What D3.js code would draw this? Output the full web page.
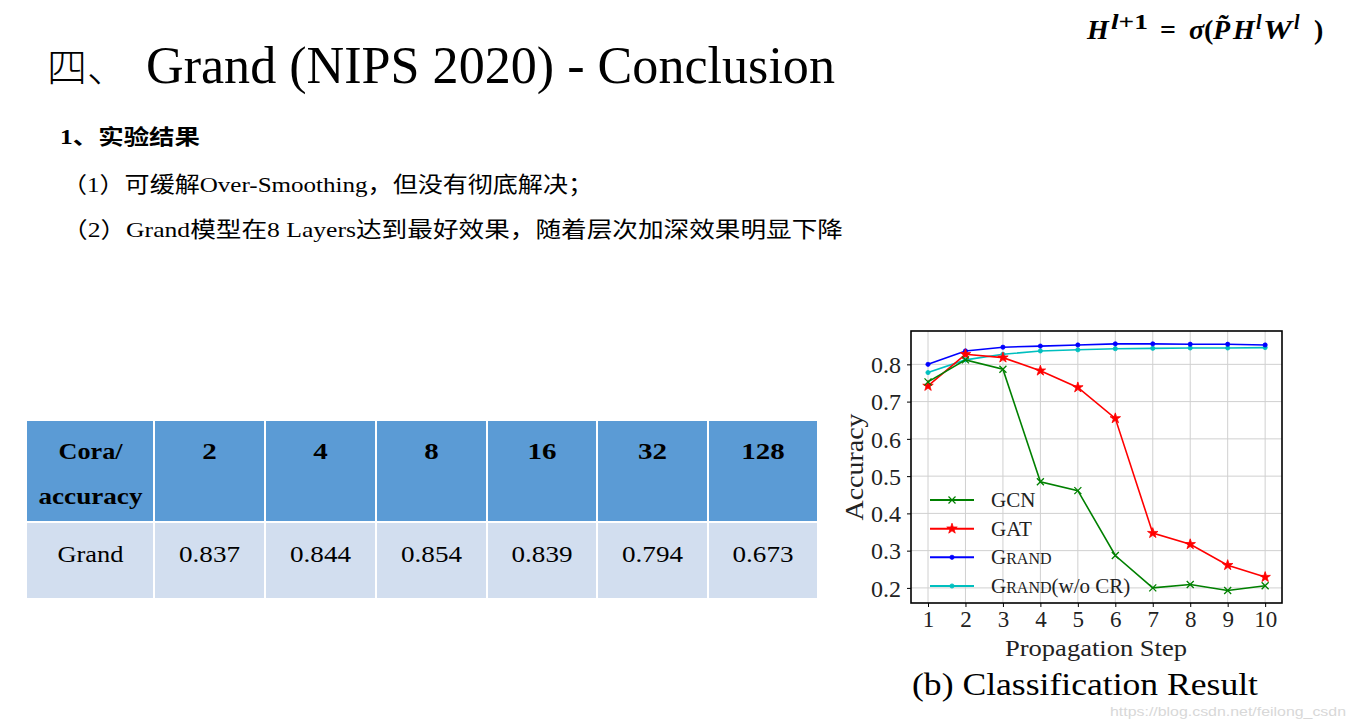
<!DOCTYPE html>
<html><head><meta charset="utf-8">
<script src="https://cdn.jsdelivr.net/npm/d3@7/dist/d3.min.js"></script>
<style>html,body{margin:0;padding:0;background:#fff;}svg{display:block;}</style>
</head><body>
<script>
// ---------- data ----------
const steps = [1, 2, 3, 4, 5, 6, 7, 8, 9, 10];
const gcn = [0.753, 0.812, 0.787, 0.485, 0.461, 0.287, 0.200, 0.209, 0.193, 0.206];
const gat = [0.742, 0.827, 0.818, 0.783, 0.738, 0.655, 0.347, 0.317, 0.261, 0.229];
const grand = [0.800, 0.836, 0.846, 0.849, 0.852, 0.855, 0.855, 0.854, 0.854, 0.852];
const grandWoCR = [0.778, 0.812, 0.827, 0.836, 0.839, 0.842, 0.843, 0.844, 0.844, 0.845];
const yTicks = [0.2, 0.3, 0.4, 0.5, 0.6, 0.7, 0.8];
const seriesNames = ["GCN", "GAT", "GRAND", "GRAND(w/o CR)"];

const tableHeaders = ["Cora/accuracy", "2", "4", "8", "16", "32", "128"];
const tableRowLabel = "Grand";
const tableValues = [0.837, 0.844, 0.854, 0.839, 0.794, 0.673];

// ---------- page ----------
const W = 1354, H = 723;
const svg = d3.select("body").append("svg").attr("width", W).attr("height", H);
svg.append("rect").attr("width", W).attr("height", H).attr("fill", "#fff");

const serif = "'Liberation Serif', 'DejaVu Serif', serif";
const cjk = "'Liberation Serif', 'Noto Sans CJK SC', serif";

// title
svg.append("text").attr("x", 47).attr("y", 82)
  .attr("font-family", "'Noto Sans CJK SC'").attr("font-size", 40).attr("font-weight", 300)
  .text("四、");
svg.append("text").attr("x", 146).attr("y", 83)
  .attr("font-family", serif).attr("font-size", 52)
  .attr("textLength", 689).attr("lengthAdjust", "spacingAndGlyphs")
  .text("Grand (NIPS 2020) - Conclusion");

// formula
const f = svg.append("g").attr("font-family", serif).attr("font-weight", "bold").attr("font-size", 28);
function ft(x, y, s, opts) {
  const t = f.append("text").attr("x", x).attr("y", y).text(s);
  if (opts) Object.entries(opts).forEach(([k, v]) => t.attr(k, v));
  return t;
}
ft(1087, 39, "H", {"font-style": "italic"});
const sup = f.append("text").attr("x", 1111).attr("y", 29).attr("font-size", 20)
  .attr("textLength", 37).attr("lengthAdjust", "spacingAndGlyphs");
sup.append("tspan").attr("font-style", "italic").text("l");
sup.append("tspan").text("+1");
ft(1160, 39, "=");
ft(1189, 39, "σ", {"font-style": "italic"});
ft(1204, 39, "(");
ft(1213, 39, "P\u0303", {"font-style": "italic"});
ft(1233, 39, "H", {"font-style": "italic"});
ft(1256, 29, "l", {"font-style": "italic", "font-size": 20});
ft(1263, 39, "W", {"font-style": "italic", "textLength": 29, "lengthAdjust": "spacingAndGlyphs"});
ft(1294, 29, "l", {"font-style": "italic", "font-size": 20});
ft(1314, 39, ")");

// bullet texts
svg.append("text").attr("x", 60).attr("y", 144)
  .attr("font-family", cjk).attr("font-size", 21).attr("font-weight", "bold")
  .attr("textLength", 140).attr("lengthAdjust", "spacingAndGlyphs")
  .text("1、实验结果");
svg.append("text").attr("x", 62).attr("y", 192)
  .attr("font-family", cjk).attr("font-size", 22)
  .attr("textLength", 531).attr("lengthAdjust", "spacingAndGlyphs")
  .text("（1）可缓解Over-Smoothing，但没有彻底解决；");
svg.append("text").attr("x", 62).attr("y", 237)
  .attr("font-family", cjk).attr("font-size", 22)
  .attr("textLength", 781).attr("lengthAdjust", "spacingAndGlyphs")
  .text("（2）Grand模型在8 Layers达到最好效果，随着层次加深效果明显下降");

// ---------- table ----------
const colEdges = [27, 154, 265, 376, 487, 597, 708, 818];
const headTop = 421, headBot = 521, bodyTop = 523, bodyBot = 598;
const tg = svg.append("g");
tableHeaders.forEach((h, i) => {
  const x0 = colEdges[i] + (i > 0 ? 1 : 0), x1 = colEdges[i + 1] - 1;
  tg.append("rect").attr("x", x0).attr("y", headTop).attr("width", x1 - x0).attr("height", headBot - headTop).attr("fill", "#5B9BD5");
  tg.append("rect").attr("x", x0).attr("y", bodyTop).attr("width", x1 - x0).attr("height", bodyBot - bodyTop).attr("fill", "#D2DEEF");
  const cx = (colEdges[i] + colEdges[i + 1]) / 2;
  if (i === 0) {
    tg.append("text").attr("x", cx).attr("y", 459).attr("text-anchor", "middle")
      .attr("font-family", serif).attr("font-weight", "bold").attr("font-size", 24)
      .attr("textLength", 64).attr("lengthAdjust", "spacingAndGlyphs").text("Cora/");
    tg.append("text").attr("x", cx).attr("y", 504).attr("text-anchor", "middle")
      .attr("font-family", serif).attr("font-weight", "bold").attr("font-size", 24)
      .attr("textLength", 104).attr("lengthAdjust", "spacingAndGlyphs").text("accuracy");
    tg.append("text").attr("x", cx).attr("y", 562).attr("text-anchor", "middle")
      .attr("font-family", serif).attr("font-size", 24)
      .attr("textLength", 66).attr("lengthAdjust", "spacingAndGlyphs").text(tableRowLabel);
  } else {
    tg.append("text").attr("x", cx).attr("y", 459).attr("text-anchor", "middle")
      .attr("font-family", serif).attr("font-weight", "bold").attr("font-size", 24)
      .attr("textLength", h.length * 14.5).attr("lengthAdjust", "spacingAndGlyphs").text(h);
    tg.append("text").attr("x", cx).attr("y", 562).attr("text-anchor", "middle")
      .attr("font-family", serif).attr("font-size", 24)
      .attr("textLength", 61).attr("lengthAdjust", "spacingAndGlyphs").text(tableValues[i - 1].toFixed(3));
  }
});

// ---------- chart ----------
const plot = {l: 911, r: 1282, t: 331, b: 603};
const x = d3.scaleLinear().domain([0.546, 10.45]).range([plot.l, plot.r]);
const y = d3.scaleLinear().domain([0.1595, 0.8895]).range([plot.b, plot.t]);
const cg = svg.append("g");

// grid
cg.selectAll(".gx").data(steps).join("line")
  .attr("x1", d => x(d)).attr("x2", d => x(d)).attr("y1", plot.t).attr("y2", plot.b)
  .attr("stroke", "#d0d0d0").attr("stroke-width", 1);
cg.selectAll(".gy").data(yTicks).join("line")
  .attr("x1", plot.l).attr("x2", plot.r).attr("y1", d => y(d)).attr("y2", d => y(d))
  .attr("stroke", "#d0d0d0").attr("stroke-width", 1);

// axes
const xAxis = cg.append("g").attr("transform", `translate(0,${plot.b})`)
  .call(d3.axisBottom(x).tickValues(steps).tickSize(4).tickPadding(4).tickFormat(d3.format("d")));
const yAxis = cg.append("g").attr("transform", `translate(${plot.l},0)`)
  .call(d3.axisLeft(y).tickValues(yTicks).tickSize(4).tickPadding(6).tickFormat(d3.format(".1f")));
[xAxis, yAxis].forEach(a => {
  a.select(".domain").remove();
  a.selectAll(".tick line").attr("stroke", "#000").attr("stroke-width", 1);
  a.selectAll(".tick text").attr("font-family", serif).attr("font-size", 23).attr("fill", "#222");
});
xAxis.selectAll(".tick text").attr("dy", "0.7em");
yAxis.selectAll(".tick text").attr("dy", "0.34em").attr("font-size", 24);

// frame
cg.append("rect").attr("x", plot.l).attr("y", plot.t).attr("width", plot.r - plot.l).attr("height", plot.b - plot.t)
  .attr("fill", "none").attr("stroke", "#000").attr("stroke-width", 1.6);

// series
const colors = ["#008000", "#ff0000", "#0000ff", "#00bfbf"];
const allSeries = [gcn, gat, grand, grandWoCR];
const line = d3.line().x((d, i) => x(steps[i])).y(d => y(d));
const starPath = d3.symbol().type(d3.symbolStar).size(34)();
const dotPath = d3.symbol().type(d3.symbolCircle).size(14)();
const crossPath = "M-3.5,-3.5L3.5,3.5M-3.5,3.5L3.5,-3.5";
const markers = [crossPath, starPath, dotPath, dotPath];

[3, 2, 1, 0].forEach(k => {
  const s = allSeries[k];
  cg.append("path").datum(s).attr("d", line).attr("fill", "none")
    .attr("stroke", colors[k]).attr("stroke-width", 1.6);
  cg.selectAll(null).data(s).join("path")
    .attr("transform", (d, i) => `translate(${x(steps[i])},${y(d)})`)
    .attr("d", markers[k])
    .attr("fill", k === 0 ? "none" : colors[k])
    .attr("stroke", colors[k]).attr("stroke-width", k === 0 ? 1.3 : 0.8);
});

// legend
const lg = cg.append("g");
const legY = [500, 528.7, 557.3, 586];
seriesNames.forEach((name, k) => {
  const yy = legY[k];
  lg.append("line").attr("x1", 930).attr("x2", 974).attr("y1", yy).attr("y2", yy)
    .attr("stroke", colors[k]).attr("stroke-width", 2);
  lg.append("path").attr("transform", `translate(952,${yy})`).attr("d", markers[k])
    .attr("fill", k === 0 ? "none" : colors[k]).attr("stroke", colors[k]).attr("stroke-width", k === 0 ? 1.2 : 0.8);
  const t = lg.append("text").attr("x", 991).attr("y", yy + 7)
    .attr("font-family", serif).attr("font-size", 21).attr("fill", "#222");
  if (name.startsWith("GRAND")) {
    t.append("tspan").text("G");
    t.append("tspan").attr("font-size", 16).text("RAND");
    const rest = name.slice(5);
    if (rest) t.append("tspan").text(rest);
  } else {
    t.text(name);
  }
});

// axis labels
svg.append("text").attr("x", 1096).attr("y", 656).attr("text-anchor", "middle")
  .attr("font-family", serif).attr("font-size", 24).attr("fill", "#222")
  .attr("textLength", 182).attr("lengthAdjust", "spacingAndGlyphs").text("Propagation Step");
svg.append("text").attr("transform", "translate(863,467) rotate(-90)").attr("text-anchor", "middle")
  .attr("font-family", serif).attr("font-size", 25).attr("fill", "#222")
  .attr("textLength", 107).attr("lengthAdjust", "spacingAndGlyphs").text("Accuracy");
svg.append("text").attr("x", 912).attr("y", 695)
  .attr("font-family", serif).attr("font-size", 32).attr("fill", "#000")
  .attr("textLength", 346).attr("lengthAdjust", "spacingAndGlyphs").text("(b) Classification Result");

// watermark
svg.append("text").attr("x", 1110).attr("y", 716)
  .attr("font-family", "'Liberation Sans', Arial, sans-serif").attr("font-size", 13).attr("fill", "#d8d8d8")
  .attr("textLength", 236).attr("lengthAdjust", "spacingAndGlyphs").text("https://blog.csdn.net/feilong_csdn");
</script>
</body></html>
